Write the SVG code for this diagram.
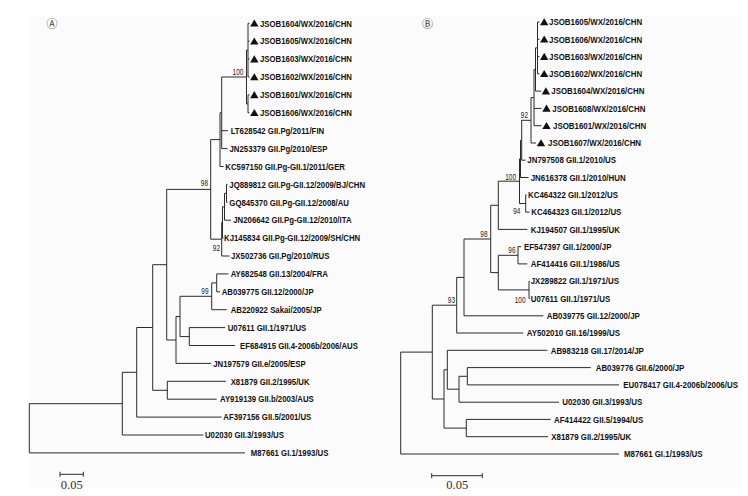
<svg xmlns="http://www.w3.org/2000/svg" xmlns:xlink="http://www.w3.org/1999/xlink" width="748" height="496" viewBox="0 0 748 496">
<style>
.br{fill:none;stroke:#2a2a2a;stroke-width:1}
.lab{font-family:"Liberation Sans",Arial,sans-serif;font-size:9.3px;font-weight:bold;fill:#111}
.bs{font-family:"Liberation Sans",Arial,sans-serif;font-size:9.5px;fill:#222;text-anchor:end}
.sc{font-family:"Liberation Serif","Times New Roman",serif;font-size:12.5px;fill:#333;text-anchor:middle}
.pl{font-family:"DejaVu Sans","Noto Sans CJK SC",sans-serif;font-size:11px;fill:#444;text-anchor:middle}
.tri{fill:#111}
</style>
<defs>
<path id="tri" d="M0,-3.8 L4.2,3.3 L-4.2,3.3 Z"/>
</defs>
<rect x="0" y="0" width="748" height="496" fill="#fff"/>
<rect x="30" y="15" width="711" height="473" fill="#fbfbfb"/>

<text class="pl" x="52" y="28">Ⓐ</text>
<text class="pl" x="427.5" y="28">Ⓑ</text>

<g id="connectors">
<!-- Panel A -->
<path class="br" d="M29.3 403.7V452.9M29.3 403.7H122.3M29.3 452.9H245
M122.3 372.3V435M122.3 435H203.3M122.3 372.3H136.7
M136.7 327.5V417.1M136.7 417.1H221.7M136.7 327.5H152.7
M152.7 264.7V390.3M152.7 390.3H167.3
M167.3 381.3V399.2M167.3 381.3H226M167.3 399.2H216.7
M152.7 264.7H166.7M166.7 189.4V340M166.7 189.4H210.7M166.7 340H176
M176 316.5V363.4M176 363.4H211M176 316.5H180
M180 296.3V336.6M180 296.3H211.7M180 336.6H189.3
M189.3 327.6V345.5M189.3 327.6H225M189.3 345.5H235
M211.7 282.9V309.7M211.7 309.7H226.7M211.7 282.9H216.7
M216.7 273.9V291.8M216.7 273.9H228.3M216.7 291.8H220
M210.7 139.6V239.2M210.7 139.6H220M210.7 239.2H221.7
M221.7 222.4V256M221.7 256H229.5M221.7 222.4H222.5
M222.5 206.8V238.1M222.5 238.1H223.5M222.5 206.8H224.5
M224.5 193.3V220.2M224.5 220.2H231M224.5 193.3H226.5
M226.5 184.4V202.3M226.5 184.4H227.5M226.5 202.3H227.5
M220 112.8V166.5M220 166.5H223.5M220 112.8H221.7
M221.7 77V148.6M221.7 130.7H228M221.7 148.6H227.5M221.7 77H246.5
M246.5 50.2V103.9M246.5 50.2H248M246.5 103.9H248
M248 23.3V77M248 23.3H249.5M248 41.2H249.5M248 59.1H249.5M248 77H249.5
M248 94.9V112.8M248 94.9H249.5M248 112.8H249.5"/>
<!-- scale A -->
<path class="br" d="M60 474.3H83.3M60 471.8V476.8M83.3 471.8V476.8"/>
<!-- Panel B -->
<path class="br" d="M400.7 352.1V454M400.7 454H619M400.7 352.1H432.3
M432.3 305.2V399M432.3 305.2H456.7M432.3 399H444
M444 369.8V428.1M444 369.8H447.3M444 428.1H466.3
M466.3 419.4V436.7M466.3 419.4H550.7M466.3 436.7H548
M447.3 350.3V389.2M447.3 350.3H547.3M447.3 389.2H459
M459 376.3V402.2M459 402.2H559M459 376.3H467.3
M467.3 367.6V384.9M467.3 367.6H590.7M467.3 384.9H619
M456.7 277.4V333M456.7 333H523.3M456.7 277.4H464
M464 239V315.8M464 315.8H543.3M464 239H490.7
M490.7 205.3V272.6M490.7 205.3H498.3M490.7 272.6H498.3
M498.3 255.3V289.9M498.3 255.3H518M498.3 289.9H529
M518 246.6V263.9M518 246.6H521M518 263.9H527.3
M529 281.2V298.5M529 281.2H529.8M529 298.5H529.8
M498.3 181.2V229.4M498.3 229.4H527.3M498.3 181.2H519.5
M519.5 158.9V203.5M519.5 158.9H520.5M519.5 203.5H525.7
M525.7 194.8V212.1M525.7 194.8H526.5M525.7 212.1H529.5
M520.5 140.3V177.5M520.5 177.5H528.5M520.5 140.3H521.7
M521.7 120.3V160.2M521.7 160.2H525.5M521.7 120.3H531
M531 97.6V143M531 143H536M531 97.6H534
M534 69.5V125.7M534 108.4H541.5M534 125.7H541.5M534 69.5H535.5
M535.5 47.9V91.1M535.5 91.1H541M535.5 47.9H537.5
M537.5 22V73.8M537.5 22H539.5M537.5 39.3H539.5M537.5 56.6H539.5M537.5 73.8H539.5"/>
<!-- scale B -->
<path class="br" d="M431.7 475.7H482.3M431.7 473.2V478.2M482.3 473.2V478.2"/>
</g>

<!-- bootstrap labels -->
<g id="bootstrap">
<text class="bs" transform="scale(0.68 1)" x="357.8" y="75.5">100</text>
<text class="bs" transform="scale(0.68 1)" x="305.9" y="186">98</text>
<text class="bs" transform="scale(0.68 1)" x="323.5" y="251">92</text>
<text class="bs" transform="scale(0.68 1)" x="306.6" y="294.5">99</text>
<text class="bs" transform="scale(0.68 1)" x="776.5" y="118.5">92</text>
<text class="bs" transform="scale(0.68 1)" x="758.8" y="180.5">100</text>
<text class="bs" transform="scale(0.68 1)" x="765.4" y="214.5">94</text>
<text class="bs" transform="scale(0.68 1)" x="716.9" y="237">98</text>
<text class="bs" transform="scale(0.68 1)" x="758.1" y="253.5">96</text>
<text class="bs" transform="scale(0.68 1)" x="772.8" y="303">100</text>
<text class="bs" transform="scale(0.68 1)" x="669.1" y="303.5">93</text>
</g>

<!-- Panel A leaves -->
<g id="A_JSOB1604"><use href="#tri" class="tri" x="254.3" y="23.3"/><text class="lab" transform="scale(0.84 1)" x="309.5" y="26.6">JSOB1604/WX/2016/CHN</text></g>
<g id="A_JSOB1605"><use href="#tri" class="tri" x="254.3" y="41.2"/><text class="lab" transform="scale(0.84 1)" x="309.5" y="44.5">JSOB1605/WX/2016/CHN</text></g>
<g id="A_JSOB1603"><use href="#tri" class="tri" x="254.3" y="59.1"/><text class="lab" transform="scale(0.84 1)" x="309.5" y="62.4">JSOB1603/WX/2016/CHN</text></g>
<g id="A_JSOB1602"><use href="#tri" class="tri" x="254.3" y="77"/><text class="lab" transform="scale(0.84 1)" x="309.5" y="80.3">JSOB1602/WX/2016/CHN</text></g>
<g id="A_JSOB1601"><use href="#tri" class="tri" x="254.3" y="94.9"/><text class="lab" transform="scale(0.84 1)" x="309.5" y="98.2">JSOB1601/WX/2016/CHN</text></g>
<g id="A_JSOB1606"><use href="#tri" class="tri" x="254.3" y="112.8"/><text class="lab" transform="scale(0.84 1)" x="309.5" y="116.1">JSOB1606/WX/2016/CHN</text></g>
<g id="A_LT628542"><text class="lab" transform="scale(0.84 1)" x="274.6" y="134">LT628542 GII.Pg/2011/FIN</text></g>
<g id="A_JN253379"><text class="lab" transform="scale(0.84 1)" x="273.2" y="151.9">JN253379 GII.Pg/2010/ESP</text></g>
<g id="A_KC597150"><text class="lab" transform="scale(0.84 1)" x="268.2" y="169.8">KC597150 GII.Pg-GII.1/2011/GER</text></g>
<g id="A_JQ889812"><text class="lab" transform="scale(0.84 1)" x="273" y="187.7">JQ889812 GII.Pg-GII.12/2009/BJ/CHN</text></g>
<g id="A_GQ845370"><text class="lab" transform="scale(0.84 1)" x="273" y="205.6">GQ845370 GII.Pg-GII.12/2008/AU</text></g>
<g id="A_JN206642"><text class="lab" transform="scale(0.84 1)" x="277.7" y="223.5">JN206642 GII.Pg-GII.12/2010/ITA</text></g>
<g id="A_KJ145834"><text class="lab" transform="scale(0.84 1)" x="266.7" y="241.4">KJ145834 GII.Pg-GII.12/2009/SH/CHN</text></g>
<g id="A_JX502736"><text class="lab" transform="scale(0.84 1)" x="275" y="259.3">JX502736 GII.Pg/2010/RUS</text></g>
<g id="A_AY682548"><text class="lab" transform="scale(0.84 1)" x="274.6" y="277.2">AY682548 GII.13/2004/FRA</text></g>
<g id="A_AB039775"><text class="lab" transform="scale(0.84 1)" x="263.9" y="295.1">AB039775 GII.12/2000/JP</text></g>
<g id="A_AB220922"><text class="lab" transform="scale(0.84 1)" x="274.6" y="313">AB220922 Sakai/2005/JP</text></g>
<g id="A_U07611"><text class="lab" transform="scale(0.84 1)" x="271.1" y="330.9">U07611 GII.1/1971/US</text></g>
<g id="A_EF684915"><text class="lab" transform="scale(0.84 1)" x="285.7" y="348.8">EF684915 GII.4-2006b/2006/AUS</text></g>
<g id="A_JN197579"><text class="lab" transform="scale(0.84 1)" x="253.9" y="366.7">JN197579 GII.e/2005/ESP</text></g>
<g id="A_X81879"><text class="lab" transform="scale(0.84 1)" x="274.6" y="384.6">X81879 GII.2/1995/UK</text></g>
<g id="A_AY919139"><text class="lab" transform="scale(0.84 1)" x="261.9" y="402.5">AY919139 GII.b/2003/AUS</text></g>
<g id="A_AF397156"><text class="lab" transform="scale(0.84 1)" x="265.8" y="420.4">AF397156 GII.5/2001/US</text></g>
<g id="A_U02030"><text class="lab" transform="scale(0.84 1)" x="244" y="438.3">U02030 GII.3/1993/US</text></g>
<g id="A_M87661"><text class="lab" transform="scale(0.84 1)" x="298.5" y="456.2">M87661 GI.1/1993/US</text></g>
<g id="A_scale"><text class="sc" x="71.7" y="489">0.05</text></g>

<!-- Panel B leaves -->
<g id="B_JSOB1605"><use href="#tri" class="tri" x="544.2" y="22"/><text class="lab" transform="scale(0.85 1)" x="645.9" y="25.3">JSOB1605/WX/2016/CHN</text></g>
<g id="B_JSOB1606"><use href="#tri" class="tri" x="544.2" y="39.3"/><text class="lab" transform="scale(0.85 1)" x="645.9" y="42.6">JSOB1606/WX/2016/CHN</text></g>
<g id="B_JSOB1603"><use href="#tri" class="tri" x="544.2" y="56.6"/><text class="lab" transform="scale(0.85 1)" x="645.9" y="59.9">JSOB1603/WX/2016/CHN</text></g>
<g id="B_JSOB1602"><use href="#tri" class="tri" x="544.2" y="73.8"/><text class="lab" transform="scale(0.85 1)" x="645.9" y="77.1">JSOB1602/WX/2016/CHN</text></g>
<g id="B_JSOB1604"><use href="#tri" class="tri" x="545.9" y="91.1"/><text class="lab" transform="scale(0.85 1)" x="648.6" y="94.4">JSOB1604/WX/2016/CHN</text></g>
<g id="B_JSOB1608"><use href="#tri" class="tri" x="546.5" y="108.4"/><text class="lab" transform="scale(0.85 1)" x="649.8" y="111.7">JSOB1608/WX/2016/CHN</text></g>
<g id="B_JSOB1601"><use href="#tri" class="tri" x="546.5" y="125.7"/><text class="lab" transform="scale(0.85 1)" x="650.6" y="129">JSOB1601/WX/2016/CHN</text></g>
<g id="B_JSOB1607"><use href="#tri" class="tri" x="541" y="143"/><text class="lab" transform="scale(0.85 1)" x="644.7" y="146.3">JSOB1607/WX/2016/CHN</text></g>
<g id="B_JN797508"><text class="lab" transform="scale(0.85 1)" x="620.4" y="163.5">JN797508 GII.1/2010/US</text></g>
<g id="B_JN616378"><text class="lab" transform="scale(0.85 1)" x="624.4" y="180.8">JN616378 GII.1/2010/HUN</text></g>
<g id="B_KC464322"><text class="lab" transform="scale(0.85 1)" x="621.2" y="198.1">KC464322 GII.1/2012/US</text></g>
<g id="B_KC464323"><text class="lab" transform="scale(0.85 1)" x="625.1" y="215.4">KC464323 GII.1/2012/US</text></g>
<g id="B_KJ194507"><text class="lab" transform="scale(0.85 1)" x="624.4" y="232.7">KJ194507 GII.1/1995/UK</text></g>
<g id="B_EF547397"><text class="lab" transform="scale(0.85 1)" x="616.5" y="249.9">EF547397 GII.1/2000/JP</text></g>
<g id="B_AF414416"><text class="lab" transform="scale(0.85 1)" x="624.4" y="267.2">AF414416 GII.1/1986/US</text></g>
<g id="B_JX289822"><text class="lab" transform="scale(0.85 1)" x="624.4" y="284.5">JX289822 GII.1/1971/US</text></g>
<g id="B_U07611"><text class="lab" transform="scale(0.85 1)" x="624.4" y="301.8">U07611 GII.1/1971/US</text></g>
<g id="B_AB039775"><text class="lab" transform="scale(0.85 1)" x="643.2" y="319.1">AB039775 GII.12/2000/JP</text></g>
<g id="B_AY502010"><text class="lab" transform="scale(0.85 1)" x="619.6" y="336.3">AY502010 GII.16/1999/US</text></g>
<g id="B_AB983218"><text class="lab" transform="scale(0.85 1)" x="647.9" y="353.6">AB983218 GII.17/2014/JP</text></g>
<g id="B_AB039776"><text class="lab" transform="scale(0.85 1)" x="700.8" y="370.9">AB039776 GII.6/2000/JP</text></g>
<g id="B_EU078417"><text class="lab" transform="scale(0.85 1)" x="733.3" y="388.2">EU078417 GII.4-2006b/2006/US</text></g>
<g id="B_U02030"><text class="lab" transform="scale(0.85 1)" x="661.5" y="405.5">U02030 GII.3/1993/US</text></g>
<g id="B_AF414422"><text class="lab" transform="scale(0.85 1)" x="651.8" y="422.7">AF414422 GII.5/1994/US</text></g>
<g id="B_X81879"><text class="lab" transform="scale(0.85 1)" x="648.6" y="440">X81879 GII.2/1995/UK</text></g>
<g id="B_M87661"><text class="lab" transform="scale(0.85 1)" x="734.1" y="457.3">M87661 GI.1/1993/US</text></g>
<g id="B_scale"><text class="sc" x="457.3" y="489">0.05</text></g>
</svg>
